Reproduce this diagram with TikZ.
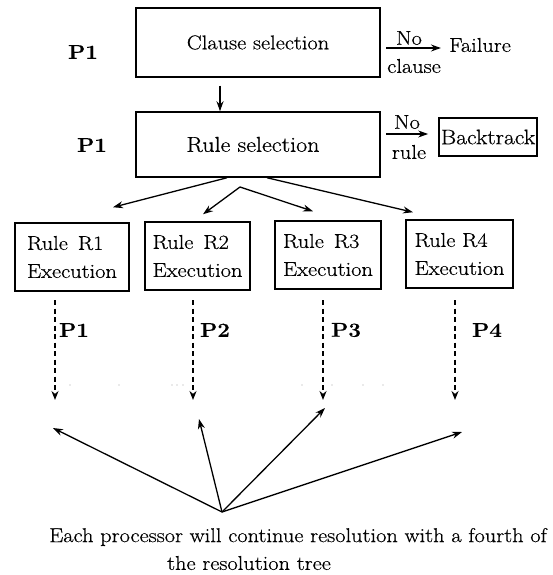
\documentclass[tikz,border=0pt]{standalone}
\usepackage{fontspec}
\setmainfont{Latin Modern Roman}[FakeStretch=1.12,FakeBold=0.5]
\usetikzlibrary{arrows.meta}
\begin{document}
\begin{tikzpicture}[x=1pt,y=-1pt,
  every node/.style={font=\fontsize{20}{28}\selectfont},
  box/.style={draw,line width=1.5pt,inner sep=0pt},
  arr/.style={line width=1.3pt,-{Stealth[length=10pt,width=7pt]}},
  darr/.style={line width=1.7pt,dash pattern=on 5pt off 3.5pt,-{Stealth[length=9pt,width=7pt]}},
  plab/.style={font=\fontsize{20}{24}\selectfont\bfseries},
  small/.style={font=\fontsize{20}{24}\selectfont,inner sep=0pt}]
\useasboundingbox (0,0) rectangle (553,575);
% top boxes
\node[box,minimum width=244pt,minimum height=69pt] (cs) at (258,42.5) {Clause selection};
\node[box,minimum width=244pt,minimum height=65pt,font=\fontsize{21.5}{26}\selectfont] (rs) at (258,144.5) {\hspace*{-10pt}Rule selection};
\node[plab] (p1a) at (83,52) {P1};
\node[plab] (p1b) at (92,145) {P1};
% failure
\node[small] (fail) at (480,45) {Failure};
\coordinate (a1) at (386,48);
\draw[arr] (a1) -- (a1 -| fail.west) [shorten >=8pt];
\node[small] (no1) at (409,38) {No};
\node[small] (cl1) at (414,66) {clause};
% backtrack
\node[box,line width=1.4pt,inner sep=2pt,minimum height=38pt,font=\fontsize{21}{26}\selectfont] (bt) at (488,137) {Backtrack};
\coordinate (a2) at (386,134);
\draw[arr,shorten >=10pt] (a2) -- (a2 -| bt.west);
\node[small] (no2) at (407,122) {No};
\node[small] (rl2) at (409,152) {rule};
% clause -> rule
\draw[arr] ([shift={(-38pt,-8pt)}]cs.south) -- ([xshift=-38pt]rs.north);
% rule boxes
\node[box,minimum width=114pt,minimum height=68pt,align=left] (r1) at (72,257) {Rule\enspace R1\\Execution};
\node[box,minimum width=105pt,minimum height=68pt,align=left] (r2) at (197.5,256) {Rule\enspace R2\\Execution};
\node[box,minimum width=106pt,minimum height=68pt,align=left] (r3) at (328,255) {Rule\enspace R3\\Execution};
\node[box,minimum width=107pt,minimum height=68pt,align=left] (r4) at (459.5,254) {Rule R4\\Execution};
% fan-out arrows
\coordinate (apex) at (240,187);
\draw[arr] ([xshift=-31pt]rs.south) -- ([shift={(41pt,15pt)}]r1.north);
\draw[arr] (apex) -- ([shift={(5.5pt,7pt)}]r2.north);
\draw[arr] (apex) -- ([shift={(-15pt,9pt)}]r3.north);
\draw[arr] ([xshift=9pt]rs.south) -- ([shift={(-46.5pt,7pt)}]r4.north);
% dashed arrows
\coordinate (d1) at (55,400);
\coordinate (d2) at (193,400);
\coordinate (d3) at (323,400);
\coordinate (d4) at (455,400);
\draw[darr] (d1 |- 0,300) -- (d1);
\draw[darr] (d2 |- 0,300) -- (d2);
\draw[darr] (d3 |- 0,300) -- (d3);
\draw[darr] (d4 |- 0,300) -- (d4);
\node[plab] (q1) at (74,330) {P1};
\node[plab] (q2) at (215,330) {P2};
\node[plab] (q3) at (346,330) {P3};
\node[plab] (q4) at (487,330) {P4};
% faint dots
\foreach \x in {70,119,172,177,183,302,332,363,383}
  \fill[black!35] (\x,385) circle (0.7pt);
% bottom fan
\coordinate (o) at (222,512);
\coordinate (t1) at (53,428);
\coordinate (t2) at (199,419);
\coordinate (t3) at (325,408);
\coordinate (t4) at (462,432);
\foreach \t in {t1,t2,t3,t4} \draw[arr] (o) -- (\t);
\node[small] (txt1) at (298,537) {Each processor will continue resolution with a fourth of};
\node[small] (txt2) at (249,563) {the resolution tree};
\end{tikzpicture}
\end{document}
